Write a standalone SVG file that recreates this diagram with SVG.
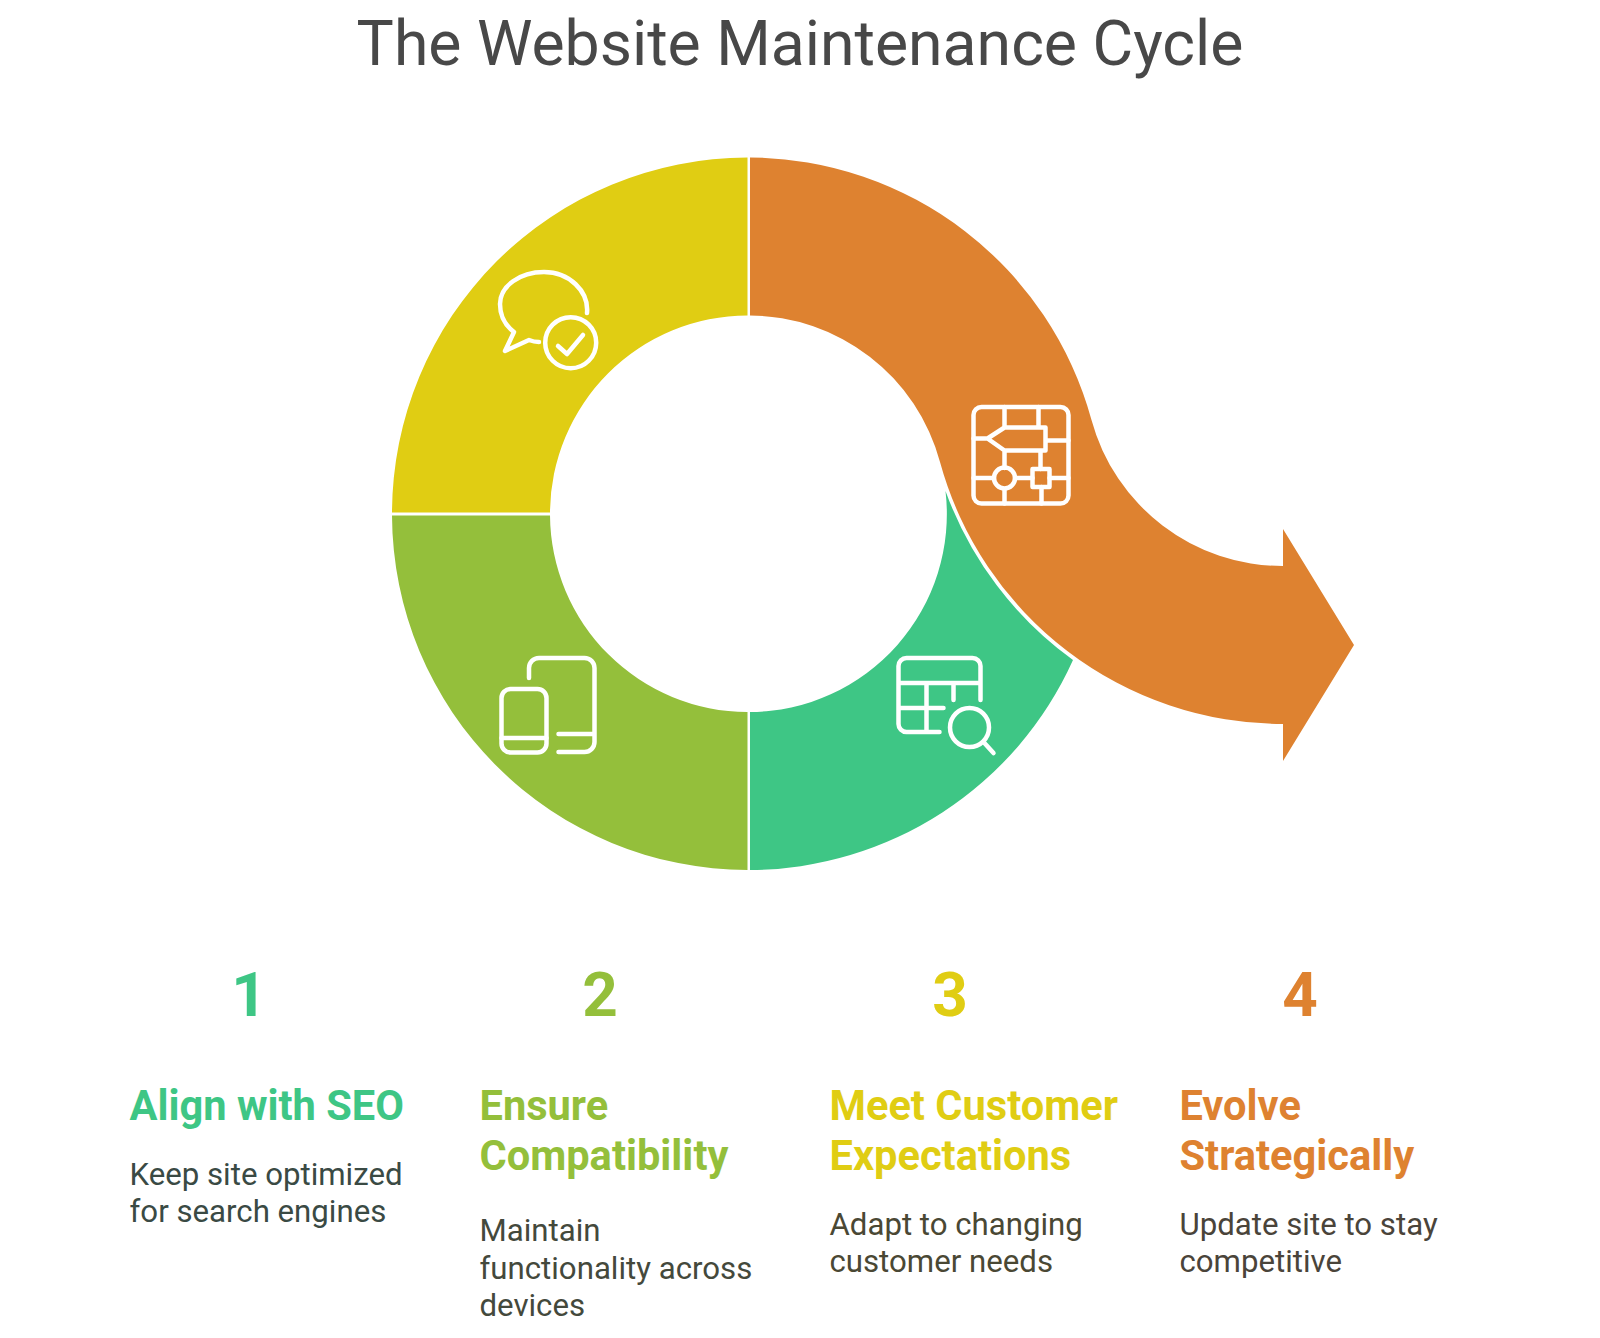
<svg xmlns="http://www.w3.org/2000/svg" width="1600" height="1338" viewBox="0 0 1600 1338">
<style>
text{font-family:Roboto,"Liberation Sans",sans-serif}
.n{font-size:62px;font-weight:700;text-anchor:middle}
.h{font-size:41.6px;font-weight:700}
.b{font-size:31.2px}
.i{fill:none;stroke:#fff;stroke-width:4.5;stroke-linecap:round;stroke-linejoin:round}
.c1{fill:#3ec685}.c2{fill:#94bf3b}.c3{fill:#e0cd13}.c4{fill:#de8230}
</style>
<rect width="1600" height="1338" fill="#fff"/>
<text x="800" y="65" text-anchor="middle" font-size="62.5" fill="#484848">The Website Maintenance Cycle</text>
<g id="seg-yellow"><path class="c3" d="M747.500 157.500A356 356 0 0 0 392 512.500H550A198 198 0 0 1 747.500 315.500Z"/>
<path class="i" d="M587 313C589 291 569 272 544 272C520 272 500 286 500 304C500 316 506 326 514 332L505 351L529 340Q534 342 539 342"/><circle class="i" cx="570.700" cy="342.700" r="25.500"/><path class="i" d="M558 346L567 354L583 335"/></g>
<g id="seg-lime"><path class="c2" d="M392 515.500A356 356 0 0 0 747.500 870V712A198 198 0 0 1 550 515.500Z"/>
<path class="i" d="M529 678V668A10 10 0 0 1 539 658H584.500A10 10 0 0 1 594.500 668V742A10 10 0 0 1 584.500 752H558.500M558.500 734H594.500"/><rect class="i" x="501.500" y="689" width="45" height="63.500" rx="9"/><path class="i" d="M501.500 738H546.500"/></g>
<g id="seg-green"><path class="c1" d="M750 870A356 356 0 0 0 1073 660.100A360 360 0 0 1 945.500 490.900A198 198 0 0 1 750 712Z"/>
<path class="i" d="M980.500 700V666A8 8 0 0 0 972.500 658H906.500A8 8 0 0 0 898.500 666V724A8 8 0 0 0 906.500 732H939.500M898.500 683H980.500M926.500 683V732M953.500 683V700M898.500 708H943.500"/><circle class="i" cx="969.500" cy="727.500" r="19.500"/><path class="i" d="M983.500 742L993.500 753"/></g>
<g id="seg-orange"><path class="c4" d="M750 157.500A356 356 0 0 1 1091.500 420A198 198 0 0 0 1283 566V529L1354 645L1283 761V724A356 356 0 0 1 940 462A198 198 0 0 0 750 315.500Z"/>
<rect class="i" x="973.500" y="407" width="95" height="96.600" rx="8"/><path class="i" d="M1004.500 407V427.500M1038.500 407V427.500M1004.500 427.500H1045.500V450.500H1004.500L987.500 438.500ZM973.500 438.500H987.500M1045.500 440.500H1068.500M1004.500 450.500V468M1040.500 450.500V469M973.500 478H994M1015 478H1032.500M1049.500 478H1068.500M1004.500 489V503.500M1041.500 487V503.500"/><circle class="i" cx="1004.500" cy="478" r="10.500"/><rect class="i" x="1032.500" y="469" width="17" height="18"/></g>
<g id="step-1"><text class="n c1" x="249" y="1015.500">1</text><text class="h c1" x="129.500" y="1120">Align with SEO</text><text class="b" fill="#3a4a44" x="129.500" y="1184.500">Keep site optimized</text><text class="b" fill="#3a4a44" x="129.500" y="1222">for search engines</text></g>
<g id="step-2"><text class="n c2" x="600" y="1015.500">2</text><text class="h c2" x="479.500" y="1120">Ensure</text><text class="h c2" x="479.500" y="1170">Compatibility</text><text class="b" fill="#44493c" x="479.500" y="1241">Maintain</text><text class="b" fill="#44493c" x="479.500" y="1278.500">functionality across</text><text class="b" fill="#44493c" x="479.500" y="1316">devices</text></g>
<g id="step-3"><text class="n c3" x="950" y="1015.500">3</text><text class="h c3" x="829.500" y="1120">Meet Customer</text><text class="h c3" x="829.500" y="1170">Expectations</text><text class="b" fill="#4a4834" x="829.500" y="1234.500">Adapt to changing</text><text class="b" fill="#4a4834" x="829.500" y="1272">customer needs</text></g>
<g id="step-4"><text class="n c4" x="1300" y="1015.500">4</text><text class="h c4" x="1179.500" y="1120">Evolve</text><text class="h c4" x="1179.500" y="1170">Strategically</text><text class="b" fill="#4a443a" x="1179.500" y="1234.500">Update site to stay</text><text class="b" fill="#4a443a" x="1179.500" y="1272">competitive</text></g>
</svg>
